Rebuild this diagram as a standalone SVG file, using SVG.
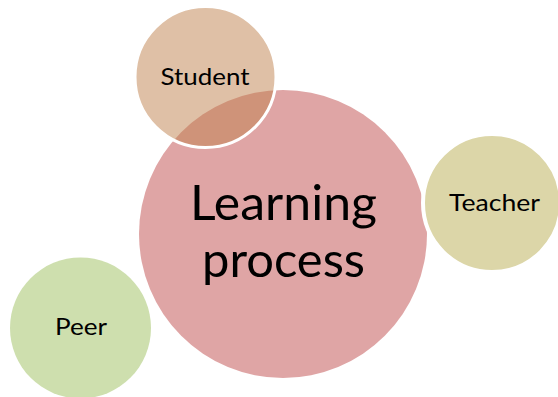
<svg xmlns="http://www.w3.org/2000/svg" width="558" height="397" viewBox="0 0 558 397">
<style>
.lbl{font-family:Lato,"Open Sans","Liberation Sans",sans-serif;fill:#000;text-anchor:middle}
.small{font-size:23px}
.big{font-size:49px}
</style>
<rect width="558" height="397" fill="#fff"/>
<g id="learning-process">
<circle cx="283" cy="234" r="144" fill="#dfa5a5"/>
</g>
<g id="student">
<circle cx="205.5" cy="77" r="70.5" fill="#bf814d" fill-opacity="0.5" stroke="#fff" stroke-width="3"/>
<text class="lbl small" x="205" y="85" textLength="89" lengthAdjust="spacingAndGlyphs">Student</text>
</g>
<g id="teacher">
<circle cx="492" cy="203" r="69" fill="#dcd6a8" stroke="#fff" stroke-width="4"/>
<text class="lbl small" x="494.5" y="211" textLength="91" lengthAdjust="spacingAndGlyphs">Teacher</text>
</g>
<g id="peer">
<circle cx="80.5" cy="328" r="70.5" fill="#cedfae"/>
<text class="lbl small" x="81" y="335" textLength="52" lengthAdjust="spacingAndGlyphs">Peer</text>
</g>
<g id="learning-label">
<text class="lbl big" x="283.5" y="220" textLength="187" lengthAdjust="spacingAndGlyphs">Learning</text>
<text class="lbl big" x="283.5" y="277" textLength="163" lengthAdjust="spacingAndGlyphs">process</text>
</g>
<g id="connectors"></g>
</svg>
